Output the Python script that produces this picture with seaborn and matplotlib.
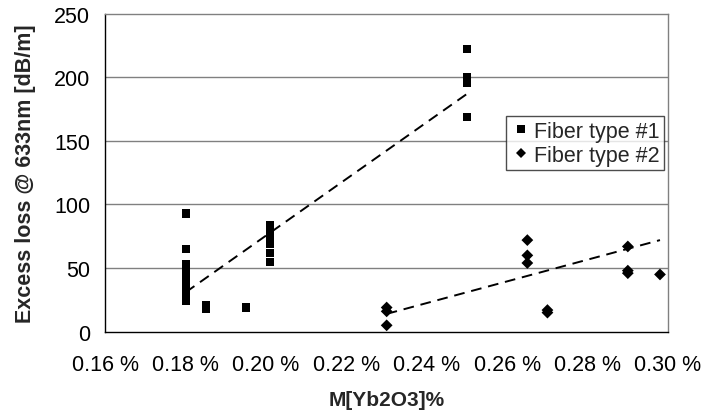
import numpy as np
import pandas as pd
import matplotlib
matplotlib.use("Agg")
import matplotlib.pyplot as plt
import seaborn as sns
from matplotlib.ticker import FuncFormatter

# Fiber type #1 (squares), x in % Yb2O3, y in dB/m
f1_x = [0.18] * 13 + [0.185] * 2 + [0.195] + [0.201] * 6 + [0.25] * 4
f1_y = [93, 65, 53, 50, 47, 44, 41, 38, 35, 32, 29, 26, 24,
        21, 18,
        19,
        84, 79, 74, 69, 62, 55,
        222, 200, 196, 169]

# Fiber type #2 (diamonds)
f2_x = [0.23] * 3 + [0.265] * 3 + [0.27] * 2 + [0.29] * 3 + [0.298]
f2_y = [19, 16, 5,
        72, 60, 54,
        17, 15,
        67, 48, 46,
        45]

# dashed trend lines
trend1_x = [0.18, 0.25]
trend1_y = [31, 187]
trend2_x = [0.23, 0.298]
trend2_y = [14, 72]

labels = ["Fiber type #1", "Fiber type #2"]
x_ticks = [0.16, 0.18, 0.20, 0.22, 0.24, 0.26, 0.28, 0.30]
y_ticks = [0, 50, 100, 150, 200, 250]

df = pd.DataFrame({
    "x": f1_x + f2_x,
    "y": f1_y + f2_y,
    "fiber": [labels[0]] * len(f1_x) + [labels[1]] * len(f2_x),
})

sns.set_style("white")
plt.rcParams["font.family"] = ["Liberation Sans", "DejaVu Sans"]

fig = plt.figure(figsize=(7.02, 4.14), dpi=100)
ax = fig.add_axes([0.150, 0.1964, 0.8016, 0.7681])

# grid lines first so markers sit on top
for yv in y_ticks[1:-1]:
    ax.axhline(yv, color="#808080", lw=1.0, zorder=0)

sns.scatterplot(data=df, x="x", y="y", style="fiber",
                markers={labels[0]: "s", labels[1]: "D"},
                color="black", s=36, linewidth=0, ax=ax, zorder=3)

ax.plot(trend1_x, trend1_y, color="black", lw=1.4, ls=(0, (5.5, 3.5)), zorder=2)
ax.plot(trend2_x, trend2_y, color="black", lw=1.4, ls=(0, (5.5, 3.5)), zorder=2)

ax.set_xlim(x_ticks[0], x_ticks[-1])
ax.set_ylim(y_ticks[0], y_ticks[-1])
ax.set_xticks(x_ticks)
ax.set_yticks(y_ticks)
ax.xaxis.set_major_formatter(FuncFormatter(lambda v, p: f"{v:.2f} %"))

for side in ["left", "bottom"]:
    ax.spines[side].set_color("black")
    ax.spines[side].set_linewidth(1.0)
for side in ["top", "right"]:
    ax.spines[side].set_color("#808080")
    ax.spines[side].set_linewidth(1.0)

ax.tick_params(axis="both", direction="out", length=6, width=1.0,
               color="black", labelsize=15.5, labelcolor="black")
ax.tick_params(axis="x", pad=10)
ax.tick_params(axis="y", pad=5)

ax.set_xlabel("M[Yb2O3]%", fontsize=15, weight="bold", labelpad=11)
ax.set_ylabel("Excess loss @ 633nm [dB/m]", fontsize=15.5, weight="bold", labelpad=13)

handles, lbls = ax.get_legend_handles_labels()
for h in handles:
    h.set_markersize(5.5)
leg = ax.legend(handles, lbls, loc="upper left", bbox_to_anchor=(0.712, 0.677),
                fontsize=15.5, frameon=True, fancybox=False, borderpad=0.2,
                handletextpad=0.1, handlelength=1.0, labelspacing=0.15,
                borderaxespad=0)
leg.get_frame().set_edgecolor("#202020")
leg.get_frame().set_linewidth(1.0)

fig.savefig("out.png", dpi=100)
